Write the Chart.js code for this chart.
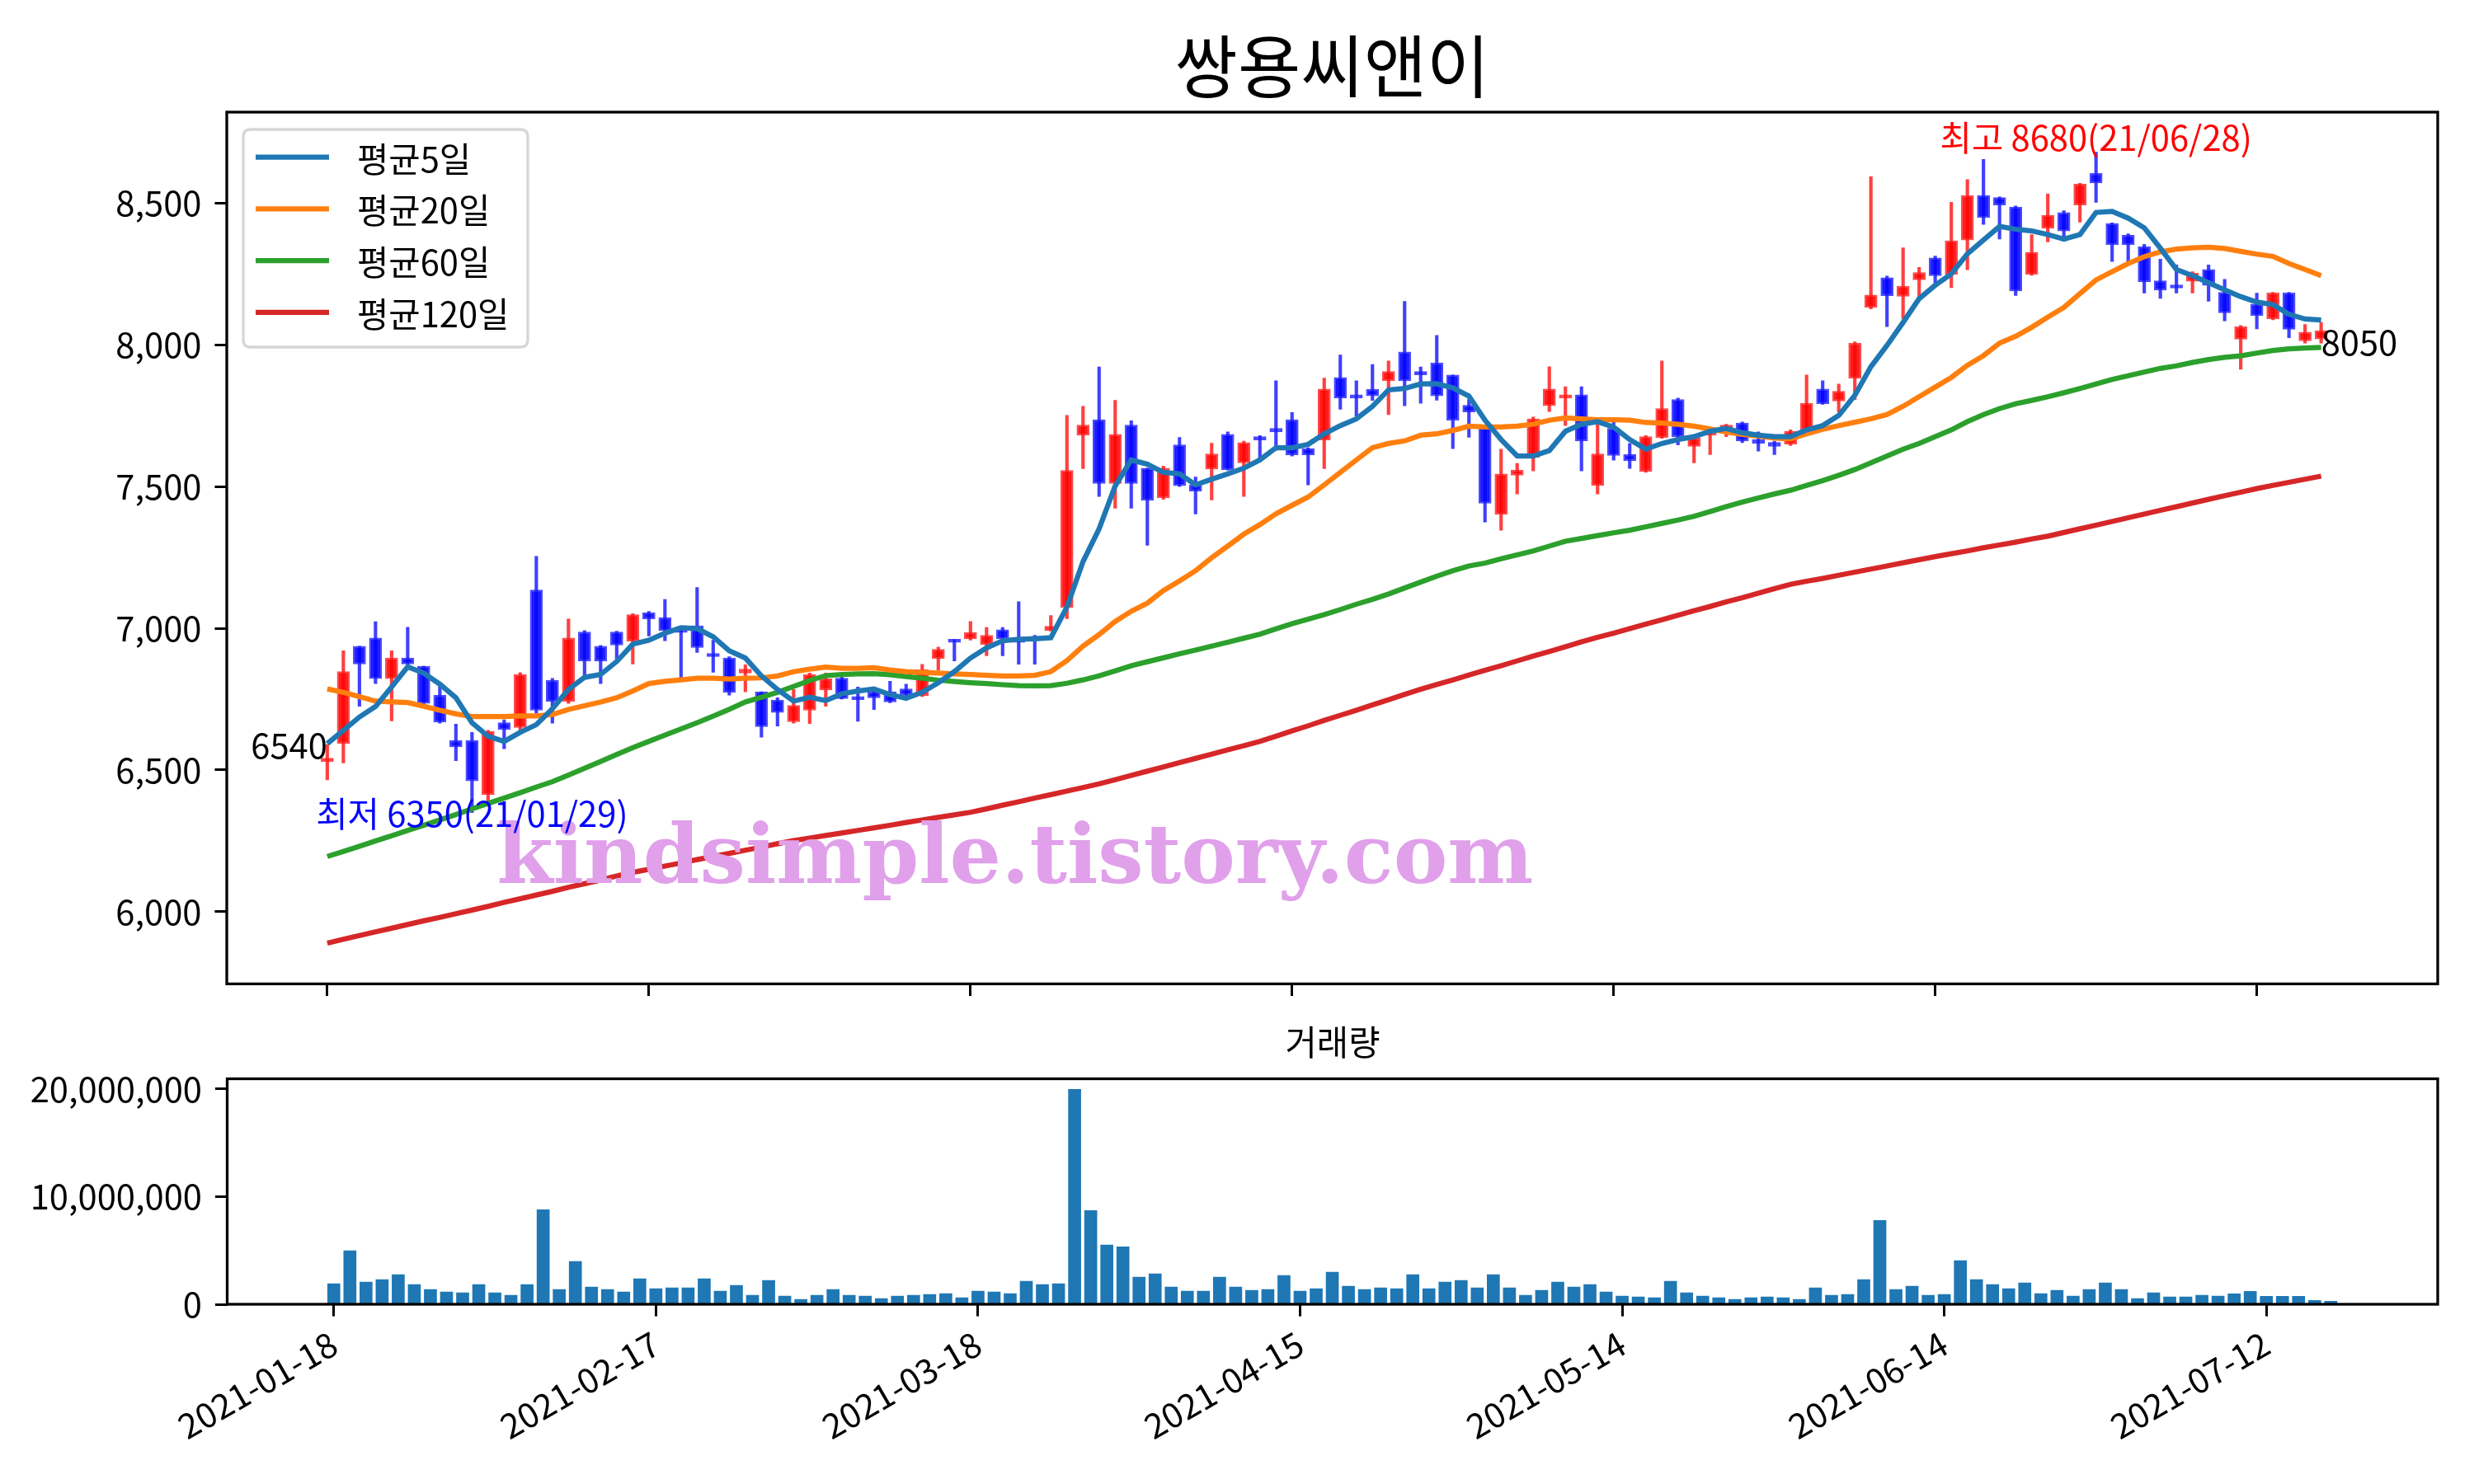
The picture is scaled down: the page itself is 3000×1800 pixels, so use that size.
<!DOCTYPE html>
<html><head><meta charset="utf-8">
<script src="https://cdn.jsdelivr.net/npm/chart.js@4.4.1/dist/chart.umd.min.js"></script>
<style>
html,body{margin:0;padding:0;background:#fff;}
#wrap{position:relative;width:3000px;height:1800px;background:#fff;}
canvas{position:absolute;left:0;}
#c1{top:0;} #c2{top:1200px;}
</style></head><body>
<div id="wrap"><canvas id="c1" width="3000" height="1260"></canvas><canvas id="c2" width="3000" height="600"></canvas></div>
<script>
const title = '쌍용씨앤이';
const volumeTitle = '거래량';
const xTickIndex = [0, 20, 40, 60, 80, 100, 120];
const xTickLabels = ['2021-01-18','2021-02-17','2021-03-18','2021-04-15','2021-05-14','2021-06-14','2021-07-12'];
const priceTicks = [6000, 6500, 7000, 7500, 8000, 8500];
const volumeTicks = [0, 10000000, 20000000];
const maLabels = ['평균5일','평균20일','평균60일','평균120일'];
const highLabel = '최고 8680(21/06/28)';
const lowLabel = '최저 6350(21/01/29)';
const watermark = 'kindsimple.tistory.com';

const opens = [
6530,6593,6937,6966,6822,6895,6866,6764,6604,6604,
6413,6667,6650,7135,6816,6742,6987,6937,6987,6955,
7055,7038,6990,7009,6905,6895,6842,6776,6747,6670,
6711,6782,6824,6755,6776,6776,6786,6762,6893,6955,
6963,6943,6995,6960,6970,6992,7073,7681,7736,7511,
7717,7565,7461,7647,7506,7562,7684,7584,7676,7705,
7736,7634,7664,7885,7824,7843,7873,7975,7906,7936,
7894,7787,7715,7402,7540,7603,7785,7812,7824,7504,
7705,7613,7553,7673,7807,7642,7681,7705,7724,7666,
7656,7650,7700,7844,7802,7882,8132,8237,8171,8229,
8307,8248,8370,8527,8520,8486,8248,8411,8467,8493,
8605,8428,8387,8347,8226,8207,8224,8266,8185,8020,
8144,8091,8183,8014,8021];
const highs = [
6590,6921,6937,7023,6921,7004,6866,6808,6662,6633,
6640,6677,6844,7254,6823,7033,6992,6940,6990,7052,
7060,7102,6995,7144,6958,6900,6871,6776,6755,6784,
6842,6842,6842,6793,6780,6813,6803,6873,6934,6960,
7024,7003,7003,7094,6975,7045,7751,7783,7922,7804,
7732,7565,7572,7673,7534,7653,7693,7660,7680,7873,
7761,7637,7883,7964,7873,7931,7943,8153,7922,8033,
7894,7807,7715,7632,7582,7745,7923,7852,7852,7724,
7729,7652,7680,7943,7812,7675,7700,7720,7728,7693,
7660,7700,7894,7873,7862,8011,8593,8243,8342,8273,
8313,8503,8583,8654,8522,8490,8389,8532,8473,8570,
8680,8430,8392,8355,8302,8282,8258,8282,8231,8068,
8182,8185,8185,8072,8079];
const lows = [
6465,6525,6725,6805,6673,6868,6730,6665,6533,6350,
6386,6575,6640,6700,6665,6735,6832,6805,6890,6874,
6973,6956,6824,6915,6845,6764,6776,6616,6655,6665,
6664,6725,6750,6672,6713,6737,6760,6759,6853,6885,
6958,6903,6903,6873,6873,6990,7034,7563,7465,7424,
7424,7293,7455,7500,7403,7453,7558,7465,7587,7628,
7608,7506,7563,7773,7749,7804,7754,7785,7794,7805,
7634,7674,7375,7346,7474,7555,7765,7715,7555,7474,
7593,7564,7550,7670,7647,7584,7613,7676,7655,7625,
7613,7645,7696,7790,7763,7807,8127,8064,8093,8166,
8214,8202,8265,8425,8373,8174,8245,8363,8365,8433,
8503,8294,8294,8183,8164,8183,8183,8154,8085,7914,
8056,8088,8025,8006,8006];
const closes = [
6540,6847,6874,6822,6895,6874,6735,6669,6582,6462,
6636,6643,6837,6711,6742,6966,6884,6884,6941,7048,
7033,6992,6985,6932,6900,6774,6856,6653,6703,6728,
6837,6822,6752,6748,6755,6740,6764,6854,6926,6950,
6985,6975,6963,6950,6960,7007,7557,7717,7511,7684,
7511,7451,7565,7503,7484,7615,7560,7655,7664,7693,
7611,7611,7844,7812,7812,7820,7906,7873,7894,7820,
7734,7763,7441,7545,7558,7739,7844,7824,7661,7615,
7610,7592,7676,7775,7676,7671,7695,7717,7661,7652,
7642,7695,7794,7792,7836,8006,8176,8173,8207,8255,
8244,8367,8527,8449,8493,8190,8326,8457,8402,8567,
8571,8353,8353,8222,8193,8200,8253,8210,8113,8064,
8103,8183,8055,8045,8050];
const volumes = [
1910000,4960000,2060000,2290000,2750000,1830000,1370000,1150000,1070000,1830000,
1070000,840000,1830000,8780000,1370000,3970000,1600000,1370000,1150000,2370000,
1450000,1530000,1530000,2370000,1220000,1760000,840000,2210000,760000,460000,
840000,1370000,840000,760000,530000,760000,840000,920000,990000,610000,
1220000,1150000,990000,2140000,1830000,1910000,19950000,8700000,5500000,5340000,
2520000,2820000,1600000,1220000,1220000,2520000,1600000,1300000,1370000,2670000,
1220000,1450000,2980000,1680000,1370000,1530000,1450000,2750000,1450000,2060000,
2210000,1530000,2750000,1530000,840000,1300000,2060000,1600000,1830000,1150000,
760000,690000,610000,2140000,1070000,760000,610000,460000,610000,690000,
610000,460000,1530000,840000,920000,2290000,7790000,1370000,1680000,840000,
920000,4050000,2290000,1830000,1450000,1980000,990000,1300000,760000,1370000,
1980000,1370000,530000,1070000,690000,690000,840000,760000,970000,1200000,
740000,740000,740000,360000,280000];
const ma5 = [
6593,6640,6687,6724,6793,6864,6842,6803,6755,6667,
6619,6601,6633,6660,6716,6784,6827,6837,6883,6944,
6958,6983,7002,6999,6970,6921,6895,6832,6784,6743,
6757,6745,6769,6779,6786,6766,6753,6774,6808,6847,
6895,6931,6956,6961,6963,6967,7075,7235,7351,7502,
7594,7579,7550,7545,7506,7526,7545,7565,7594,7637,
7637,7649,7686,7715,7739,7783,7841,7846,7862,7863,
7848,7819,7734,7666,7608,7608,7627,7695,7720,7729,
7710,7666,7632,7652,7666,7676,7695,7705,7690,7681,
7676,7676,7700,7715,7751,7822,7923,7998,8079,8163,
8210,8250,8321,8370,8418,8408,8402,8389,8373,8389,
8467,8471,8447,8413,8341,8266,8244,8219,8194,8170,
8151,8142,8108,8091,8088];
const ma20 = [
6786,6774,6759,6743,6740,6738,6725,6711,6698,6689,
6689,6689,6691,6691,6696,6714,6727,6740,6755,6779,
6805,6813,6818,6824,6824,6821,6824,6825,6832,6847,
6856,6863,6859,6859,6861,6853,6847,6844,6842,6839,
6837,6834,6832,6832,6834,6847,6886,6937,6978,7024,
7060,7089,7133,7167,7203,7249,7290,7332,7366,7404,
7434,7463,7506,7550,7594,7637,7652,7661,7681,7686,
7698,7713,7710,7710,7713,7720,7734,7742,7739,7736,
7736,7734,7726,7724,7720,7713,7703,7693,7684,7678,
7671,7668,7686,7702,7715,7727,7739,7754,7783,7817,
7851,7885,7928,7962,8006,8030,8062,8098,8132,8181,
8229,8258,8287,8311,8328,8338,8342,8344,8340,8330,
8320,8312,8287,8266,8244];
const ma60 = [
6195,6213,6231,6250,6268,6287,6305,6324,6343,6363,
6382,6401,6420,6440,6459,6482,6506,6530,6555,6579,
6601,6623,6645,6667,6690,6714,6740,6757,6774,6795,
6816,6833,6837,6839,6840,6836,6830,6824,6817,6812,
6808,6805,6801,6798,6797,6798,6806,6818,6832,6850,
6868,6882,6896,6910,6923,6937,6951,6965,6979,6998,
7016,7032,7048,7066,7085,7102,7121,7142,7163,7184,
7203,7220,7230,7245,7259,7273,7290,7307,7317,7327,
7337,7346,7358,7370,7382,7395,7412,7429,7445,7460,
7474,7487,7504,7521,7540,7560,7584,7608,7632,7652,
7676,7700,7729,7754,7775,7792,7804,7817,7831,7846,
7862,7878,7891,7904,7917,7926,7938,7948,7956,7961,
7971,7980,7986,7989,7991];
const ma120 = [
5889,5903,5916,5929,5942,5955,5968,5980,5993,6006,
6019,6033,6046,6059,6072,6086,6099,6112,6126,6139,
6150,6161,6172,6184,6195,6206,6217,6228,6240,6251,
6260,6269,6278,6287,6296,6305,6315,6324,6333,6342,
6351,6363,6376,6388,6401,6413,6426,6438,6451,6466,
6481,6496,6511,6526,6541,6556,6571,6586,6601,6619,
6638,6656,6675,6693,6711,6730,6748,6767,6785,6802,
6818,6835,6852,6868,6885,6902,6918,6935,6952,6968,
6983,6999,7015,7030,7046,7062,7077,7093,7108,7124,
7140,7155,7166,7176,7187,7198,7209,7220,7231,7242,
7253,7263,7273,7284,7294,7304,7315,7325,7338,7351,
7364,7377,7390,7403,7416,7429,7442,7455,7468,7480,
7493,7504,7515,7526,7537];

// ---------- styling ----------
const FONT = "'Noto Sans CJK KR','Noto Sans',sans-serif";
const FS = 41.7;
const maColors = ['#1f77b4','#ff7f0e','#2ca02c','#d62728'];
const maSeries = [ma5, ma20, ma60, ma120];
Chart.defaults.font.family = FONT;
Chart.defaults.font.size = FS;
Chart.defaults.color = '#000';

const idx = closes.map((_, i) => i);
const isUp = i => closes[i] >= opens[i];
const bodyFill = idx.map(i => isUp(i) ? 'rgba(255,0,0,0.88)' : 'rgba(0,0,255,0.88)');
const bodyEdge = idx.map(i => isUp(i) ? 'rgba(255,30,30,0.8)' : 'rgba(30,30,255,0.8)');
const wickFill = idx.map(i => isUp(i) ? 'rgba(255,0,0,0.75)' : 'rgba(0,0,255,0.75)');

const tickGrid = {display:true, drawOnChartArea:false, drawTicks:true, tickLength:14.6, tickWidth:3, tickColor:'#000', offset:false};
const fixTicks = vals => s => { s.ticks = vals.map(v => ({value:v})); };

const priceDecor = {
  id:'priceDecor',
  afterDatasetsDraw(chart){
    const ctx = chart.ctx;
    ctx.save();
    ctx.font = "bold 100px 'DejaVu Serif'";
    const w = ctx.measureText(watermark).width;
    const size = 100 * 1257 / w;
    ctx.font = `bold ${size}px 'DejaVu Serif'`;
    ctx.fillStyle = 'rgb(224,160,234)';
    ctx.textAlign = 'center';
    ctx.textBaseline = 'alphabetic';
    ctx.fillText(watermark, 1231, 1071);
    ctx.restore();
  },
  afterDraw(chart){
    const {ctx, chartArea:a} = chart;
    const xs = chart.scales.x, ys = chart.scales.y;
    ctx.save();
    // frame
    ctx.strokeStyle = '#000'; ctx.lineWidth = 3.3;
    ctx.strokeRect(a.left, a.top, a.right - a.left, a.bottom - a.top);
    // title
    ctx.fillStyle = '#000';
    ctx.font = `83px ${FONT}`;
    ctx.textAlign = 'center'; ctx.textBaseline = 'middle';
    ctx.fillText(title, (a.left + a.right) / 2, 80);
    // annotations
    ctx.font = `${FS}px ${FONT}`;
    ctx.textBaseline = 'alphabetic';
    const last = closes.length - 1;
    ctx.textAlign = 'right';
    ctx.fillText(String(closes[0]), xs.getPixelForValue(0), ys.getPixelForValue(closes[0]));
    ctx.textAlign = 'left';
    ctx.fillText(String(closes[last]), xs.getPixelForValue(last), ys.getPixelForValue(closes[last]) + 30);
    let hi = 0, lo = 0;
    highs.forEach((v, i) => { if (v > highs[hi]) hi = i; });
    lows.forEach((v, i) => { if (v < lows[lo]) lo = i; });
    ctx.textAlign = 'center';
    ctx.fillStyle = '#ff0000';
    ctx.fillText(highLabel, xs.getPixelForValue(hi), ys.getPixelForValue(highs[hi]) - 1);
    ctx.fillStyle = '#0000ff';
    ctx.fillText(lowLabel, xs.getPixelForValue(lo), ys.getPixelForValue(lows[lo]) + 17.5);
    // legend
    const lx = 295, ly = 157, lw = 345, lh = 264, r = 9;
    ctx.beginPath();
    ctx.moveTo(lx + r, ly); ctx.lineTo(lx + lw - r, ly); ctx.quadraticCurveTo(lx + lw, ly, lx + lw, ly + r);
    ctx.lineTo(lx + lw, ly + lh - r); ctx.quadraticCurveTo(lx + lw, ly + lh, lx + lw - r, ly + lh);
    ctx.lineTo(lx + r, ly + lh); ctx.quadraticCurveTo(lx, ly + lh, lx, ly + lh - r);
    ctx.lineTo(lx, ly + r); ctx.quadraticCurveTo(lx, ly, lx + r, ly); ctx.closePath();
    ctx.fillStyle = 'rgba(255,255,255,0.8)'; ctx.fill();
    ctx.strokeStyle = '#d6d6d6'; ctx.lineWidth = 3.3; ctx.stroke();
    ctx.textAlign = 'left'; ctx.textBaseline = 'middle';
    maLabels.forEach((lab, k) => {
      const yy = 190.7 + k * 62.7;
      ctx.strokeStyle = maColors[k]; ctx.lineWidth = 6.25; ctx.lineCap = 'butt';
      ctx.beginPath(); ctx.moveTo(310, yy); ctx.lineTo(399, yy); ctx.stroke();
      ctx.fillStyle = '#000';
      ctx.fillText(lab, 433, yy + 2);
    });
    ctx.restore();
  }
};

new Chart(document.getElementById('c1'), {
  type:'bar',
  data:{
    datasets:[
      ...maSeries.map((s, k) => ({
        type:'line', label:maLabels[k], data:s.map((v, i) => ({x:i, y:v})),
        borderColor:maColors[k], borderWidth:6.25, pointRadius:0, tension:0, fill:false, order:0
      })),
      {type:'bar', label:'wick', data:idx.map(i => ({x:i, y:[lows[i], highs[i]]})),
       backgroundColor:wickFill, barThickness:3.5, grouped:false, order:2},
      {type:'bar', label:'body', data:idx.map(i => ({x:i, y:[opens[i], closes[i]]})),
       backgroundColor:bodyFill, borderColor:bodyEdge, borderWidth:2.5, borderSkipped:false,
       barThickness:15, minBarLength:4, grouped:false, order:1}
    ]
  },
  options:{
    responsive:false, animation:false, devicePixelRatio:1,
    layout:{padding:{left:0, right:44, top:136, bottom:0}},
    plugins:{legend:{display:false}, tooltip:{enabled:false}},
    scales:{
      x:{type:'linear', min:-6.25, max:131.25, offset:false,
         afterBuildTicks:fixTicks(xTickIndex),
         ticks:{callback:() => '', autoSkip:false, maxRotation:0},
         grid:tickGrid, border:{display:false},
         afterFit:s => { s.height = 1260 - 1193.4; }},
      y:{type:'linear', min:5745.5, max:8821,
         afterBuildTicks:fixTicks(priceTicks),
         ticks:{callback:v => v.toLocaleString('en-US'), padding:16},
         grid:tickGrid, border:{display:false},
         afterFit:s => { s.width = 275; }}
    }
  },
  plugins:[priceDecor]
});

const volDecor = {
  id:'volDecor',
  afterDraw(chart){
    const {ctx, chartArea:a} = chart;
    ctx.save();
    ctx.strokeStyle = '#000'; ctx.lineWidth = 3.3;
    ctx.strokeRect(a.left, a.top, a.right - a.left, a.bottom - a.top);
    ctx.fillStyle = '#000';
    ctx.font = `${FS}px ${FONT}`;
    ctx.textAlign = 'center'; ctx.textBaseline = 'middle';
    ctx.fillText(volumeTitle, 1616, 64);
    ctx.restore();
  }
};

new Chart(document.getElementById('c2'), {
  type:'bar',
  data:{datasets:[{label:'volume', data:idx.map(i => ({x:i, y:volumes[i]})),
    backgroundColor:'#1f77b4', barThickness:15, grouped:false}]},
  options:{
    responsive:false, animation:false, devicePixelRatio:1,
    layout:{padding:{left:0, right:44, top:108.5, bottom:0}},
    plugins:{legend:{display:false}, tooltip:{enabled:false}},
    scales:{
      x:{type:'linear', min:-6.62, max:130.64, offset:false,
         afterBuildTicks:fixTicks(xTickIndex),
         ticks:{callback:v => { const k = xTickIndex.indexOf(v); return k >= 0 ? xTickLabels[k] : ''; },
                autoSkip:false, minRotation:30, maxRotation:30, padding:8},
         grid:tickGrid, border:{display:false},
         afterFit:s => { s.height = 600 - 382; }},
      y:{type:'linear', min:0, max:20930000,
         afterBuildTicks:fixTicks(volumeTicks),
         ticks:{callback:v => v.toLocaleString('en-US'), padding:16},
         grid:tickGrid, border:{display:false},
         afterFit:s => { s.width = 275.5; }}
    }
  },
  plugins:[volDecor]
});
</script>
</body></html>
